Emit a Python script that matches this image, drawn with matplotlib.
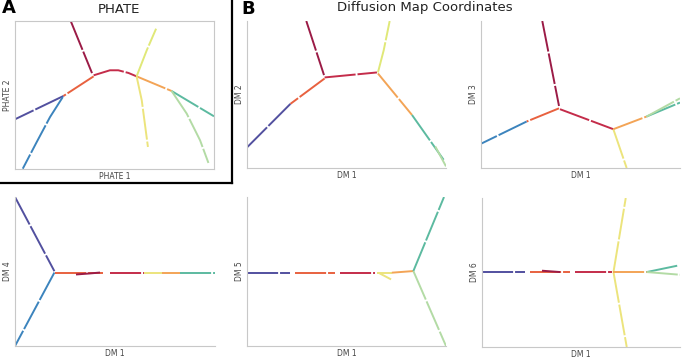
import matplotlib
matplotlib.use("Agg")
import matplotlib.pyplot as plt
from matplotlib.lines import Line2D

# ---------------- data (axes-normalised coordinates) ----------------
# Each branch: x list, y list, cell-group name
PHATE_X = [[0.28, 0.387], [0.395, 0.477, 0.519, 0.570, 0.611], [0.395, 0.243], [0.243, 0.0],
           [0.240, 0.176, 0.109, 0.039], [0.611, 0.787], [0.787, 1.0], [0.787, 0.863, 0.930, 0.972],
           [0.611, 0.662, 0.709], [0.611, 0.637, 0.668]]
PHATE_Y = [[1.0, 0.648], [0.633, 0.667, 0.667, 0.649, 0.626], [0.626, 0.493], [0.493, 0.336],
           [0.486, 0.351, 0.182, 0.002], [0.626, 0.527], [0.527, 0.356], [0.527, 0.374, 0.194, 0.041],
           [0.626, 0.802, 0.948], [0.626, 0.464, 0.149]]
PHATE_G = ["maroon", "red", "orangered", "purple", "blue", "orange", "green", "lightgreen",
           "yellowgreen", "yellow"]

DM2_X = [[0.298, 0.387], [0.390, 0.653], [0.390, 0.218], [0.218, 0.0], [0.658, 0.687, 0.717],
         [0.658, 0.829], [0.829, 0.988], [0.946, 1.0]]
DM2_Y = [[1.0, 0.632], [0.616, 0.650], [0.609, 0.436], [0.436, 0.140], [0.650, 0.801, 1.0],
         [0.643, 0.361], [0.361, 0.056], [0.147, 0.011]]
DM2_G = ["maroon", "red", "orangered", "purple", "yellowgreen", "orange", "green", "lightgreen"]

DM3_X = [[0.308, 0.392], [0.397, 0.665], [0.392, 0.229], [0.229, 0.0], [0.665, 0.732],
         [0.665, 0.832], [0.832, 1.0], [0.832, 1.0]]
DM3_Y = [[1.0, 0.422], [0.400, 0.264], [0.406, 0.316], [0.316, 0.165], [0.264, 0.0],
         [0.264, 0.350], [0.350, 0.445], [0.350, 0.474]]
DM3_G = ["maroon", "red", "orangered", "blue", "yellow", "orange", "green", "lightgreen"]

DM4_X = [[0.0, 0.197], [0.197, 0.0], [0.200, 0.442], [0.475, 0.645], [0.645, 0.737],
         [0.737, 0.825], [0.825, 1.0], [0.305, 0.375, 0.425]]
DM4_Y = [[1.0, 0.502], [0.493, 0.0], [0.493, 0.493], [0.493, 0.493], [0.493, 0.493],
         [0.493, 0.493], [0.493, 0.493], [0.480, 0.487, 0.493]]
DM4_G = ["purple", "blue", "orangered", "red", "yellow", "orange", "green", "maroon"]

DM5_X = [[0.0, 0.217], [0.242, 0.443], [0.468, 0.644], [0.652, 0.728], [0.660, 0.724],
         [0.728, 0.836], [0.836, 0.99], [0.836, 1.0]]
DM5_Y = [[0.492, 0.492], [0.492, 0.492], [0.492, 0.492], [0.492, 0.492], [0.492, 0.447],
         [0.492, 0.503], [0.503, 1.0], [0.503, 0.0]]
DM5_G = ["purple", "orangered", "red", "yellow", "yellow", "orange", "green", "lightgreen"]

DM6_X = [[0.0, 0.218], [0.244, 0.445], [0.471, 0.655], [0.303, 0.395], [0.664, 0.726],
         [0.664, 0.731], [0.664, 0.832], [0.832, 0.995], [0.832, 1.0]]
DM6_Y = [[0.503, 0.503], [0.503, 0.503], [0.503, 0.503], [0.512, 0.503], [0.503, 1.0],
         [0.503, 0.0], [0.503, 0.503], [0.503, 0.548], [0.503, 0.485]]
DM6_G = ["purple", "orangered", "red", "maroon", "yellow", "yellow", "orange", "green", "lightgreen"]

PANEL_LABELS = [("PHATE 1", "PHATE 2"), ("DM 1", "DM 2"), ("DM 1", "DM 3"),
                ("DM 1", "DM 4"), ("DM 1", "DM 5"), ("DM 1", "DM 6")]

# ---------------- style ----------------
COLORS = {
    "maroon": "#9b1b46", "red": "#c42c4a", "orangered": "#e8613f", "orange": "#f3a456",
    "yellow": "#ece47c", "yellowgreen": "#e0e878", "lightgreen": "#b3dba5",
    "green": "#5cbaa0", "blue": "#3c84bd", "purple": "#52509f",
}
W, H = 685, 359
fig = plt.figure(figsize=(W / 100, H / 100), dpi=100)

def px_axes(l, t, r, b):
    return fig.add_axes([l / W, 1 - b / H, (r - l) / W, (b - t) / H])

rects = [(15, 21, 214, 169), (247, 21, 446, 168), (481, 21, 680, 168),
         (15, 197, 215, 346), (247, 197, 446, 346), (482, 198, 680, 347)]
data = [(PHATE_X, PHATE_Y, PHATE_G), (DM2_X, DM2_Y, DM2_G), (DM3_X, DM3_Y, DM3_G),
        (DM4_X, DM4_Y, DM4_G), (DM5_X, DM5_Y, DM5_G), (DM6_X, DM6_Y, DM6_G)]

for i, (rect, (xs, ys, gs), (xl, yl)) in enumerate(zip(rects, data, PANEL_LABELS)):
    ax = px_axes(*rect)
    for x, y, g in zip(xs, ys, gs):
        ax.plot(x, y, color=COLORS[g], lw=1.4, solid_capstyle="butt",
                dash_capstyle="butt", linestyle=(0, (16, 1.0)))
    ax.set_xlim(0, 1)
    ax.set_ylim(0, 1)
    ax.set_xticks([])
    ax.set_yticks([])
    for s in ax.spines.values():
        s.set_color("#c8c8c8")
        s.set_linewidth(0.8)
    if i != 0:
        ax.spines["top"].set_visible(False)
        ax.spines["right"].set_visible(False)
    ax.annotate(xl, xy=(0.5, 0), xycoords="axes fraction", xytext=(0, -5.4),
                textcoords="offset points", ha="center", va="center",
                fontsize=5.5, color="#444444")
    ax.annotate(yl, xy=(0, 0.5), xycoords="axes fraction", xytext=(-5.6, 0),
                textcoords="offset points", ha="center", va="center",
                fontsize=5.5, color="#444444", rotation=90)

fig.text(119 / W, 1 - 9.5 / H, "PHATE", ha="center", va="center", fontsize=9.5, color="#222222")
fig.text(425 / W, 1 - 8 / H, "Diffusion Map Coordinates", ha="center", va="center",
         fontsize=9.5, color="#222222")
fig.text(2 / W, 1 - 8 / H, "A", ha="left", va="center", fontsize=13, fontweight="bold")
fig.text(241 / W, 1 - 8.5 / H, "B", ha="left", va="center", fontsize=13, fontweight="bold")

# black frame around panel A (right and bottom edges)
fig.add_artist(Line2D([231.5 / W, 231.5 / W], [1.0, 1 - 182.5 / H], color="black", lw=1.6,
                      transform=fig.transFigure, solid_capstyle="projecting"))
fig.add_artist(Line2D([0, 231.5 / W], [1 - 182.5 / H, 1 - 182.5 / H], color="black", lw=1.6,
                      transform=fig.transFigure, solid_capstyle="projecting"))

fig.savefig("out.png", dpi=100)
